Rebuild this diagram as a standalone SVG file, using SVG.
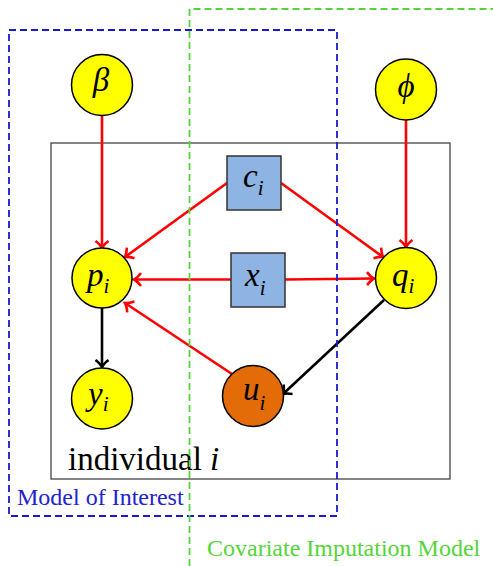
<svg xmlns="http://www.w3.org/2000/svg" width="493" height="566" viewBox="0 0 493 566">
<style>
.node{fill:#ffff00;stroke:#000;stroke-width:1.5}
.obs{fill:#8eb4e3;stroke:#333;stroke-width:1.5}
.lat{fill:#e36c09;stroke:#000;stroke-width:1.5}
.t{font-family:'Liberation Serif','Times New Roman','DejaVu Serif',serif}
.m{font-family:'Liberation Serif','Times New Roman','DejaVu Serif',serif;font-style:italic;font-size:33px;fill:#000}
.s{font-size:21px}
.r{stroke:#ff0000;stroke-width:2.6;fill:none}
.k{stroke:#000;stroke-width:2.6;fill:none}
</style>
<defs>
<marker id="ar" markerUnits="userSpaceOnUse" markerWidth="14" markerHeight="14" refX="0" refY="0" viewBox="-8 -7 10 14" orient="auto" overflow="visible">
<path d="M-7,-6.5 Q-3,-1.5 0,0 Q-3,1.5 -7,6.5" stroke="#ff0000" stroke-width="2.6" fill="none"/>
</marker>
<marker id="ak" markerUnits="userSpaceOnUse" markerWidth="14" markerHeight="14" refX="0" refY="0" viewBox="-8 -7 10 14" orient="auto" overflow="visible">
<path d="M-7,-6.5 Q-3,-1.5 0,0 Q-3,1.5 -7,6.5" stroke="#000" stroke-width="2.6" fill="none"/>
</marker>
</defs>
<rect width="493" height="566" fill="#fff"/>
<g id="plate">
<rect x="51" y="143" width="399" height="336" fill="none" stroke="#444" stroke-width="1.3"/>
<text class="t" x="68" y="470" font-size="33">individual <tspan font-style="italic">i</tspan></text>
</g>
<g id="connectors">
<line class="r" x1="102" y1="115" x2="102" y2="248" marker-end="url(#ar)"/>
<line class="r" x1="406" y1="120" x2="406" y2="247" marker-end="url(#ar)"/>
<line class="r" x1="227" y1="183" x2="125" y2="257" marker-end="url(#ar)"/>
<line class="r" x1="281" y1="183" x2="383" y2="257" marker-end="url(#ar)"/>
<line class="r" x1="231" y1="279.5" x2="134" y2="279.5" marker-end="url(#ar)"/>
<line class="r" x1="285" y1="279.5" x2="374" y2="278.5" marker-end="url(#ar)"/>
<line class="r" x1="232" y1="374" x2="125" y2="303" marker-end="url(#ar)"/>
<line class="k" x1="384" y1="300" x2="283" y2="394" marker-end="url(#ak)"/>
<line class="k" x1="102" y1="308" x2="102" y2="367" marker-end="url(#ak)"/>
</g>
<g id="beta"><circle class="node" cx="102" cy="85" r="30.5"/><text class="m" x="101" y="91" text-anchor="middle" font-size="35">β</text></g>
<g id="phi"><circle class="node" cx="406" cy="89.5" r="30.5"/><text class="m" x="406" y="97" text-anchor="middle" font-size="35">ϕ</text></g>
<g id="c_i"><rect class="obs" x="227" y="156" width="54" height="54"/><text class="m" x="243" y="187">c<tspan class="s" dy="8">i</tspan></text></g>
<g id="x_i"><rect class="obs" x="231" y="253" width="54" height="54"/><text class="m" x="245" y="286">x<tspan class="s" dy="9">i</tspan></text></g>
<g id="p_i"><circle class="node" cx="102" cy="278" r="30"/><text class="m" x="87" y="286">p<tspan class="s" dy="7">i</tspan></text></g>
<g id="q_i"><circle class="node" cx="406" cy="278" r="30.5"/><text class="m" x="392" y="286">q<tspan class="s" dy="7">i</tspan></text></g>
<g id="y_i"><circle class="node" cx="102" cy="398.5" r="30.5"/><text class="m" x="88" y="405">y<tspan class="s" dy="6">i</tspan></text></g>
<g id="u_i"><circle class="lat" cx="253" cy="396" r="30.5"/><text class="m" x="243" y="400">u<tspan class="s" dy="10">i</tspan></text></g>
<g id="model-of-interest">
<rect x="9" y="30" width="328" height="486" fill="none" stroke="#1a1acc" stroke-width="1.8" stroke-dasharray="7,4"/>
<text class="t" x="17" y="505" font-size="24" fill="#2222cc">Model of Interest</text>
</g>
<g id="covariate-imputation-model">
<path d="M189.5,566 V9 H493" fill="none" stroke="#55d43a" stroke-width="1.8" stroke-dasharray="7,4"/>
<text class="t" x="207" y="556" font-size="24" fill="#55d43a">Covariate Imputation Model</text>
</g>
</svg>
